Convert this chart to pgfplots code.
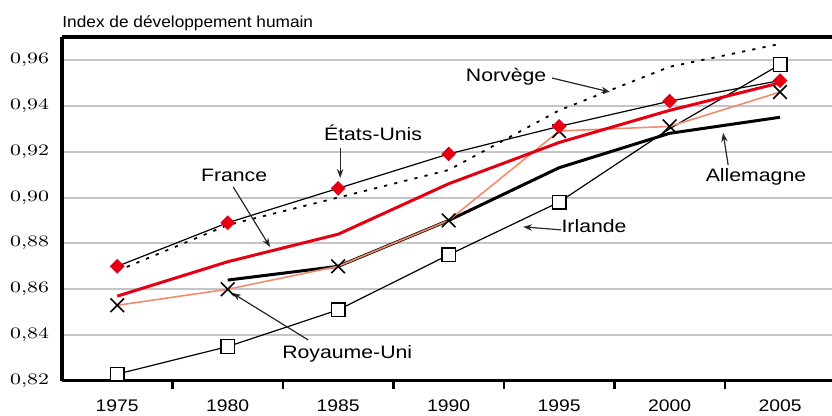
\documentclass[border=0pt]{standalone}
\usepackage{fontspec}
\usepackage{graphicx}
\setmainfont{Liberation Sans}
\newfontfamily\titlefont{Liberation Sans}[FakeStretch=1.08]
\newfontfamily\xtfont{Liberation Sans}[FakeStretch=1.15]
\newfontfamily\annfont{Liberation Sans}[FakeStretch=1.18]
\usepackage{pgfplots}
\pgfplotsset{compat=1.18}
\usetikzlibrary{arrows.meta}
\definecolor{idhred}{RGB}{228,0,18}
\definecolor{salmon}{RGB}{240,140,110}
\definecolor{gridgray}{RGB}{196,196,202}
\begin{document}
\begin{tikzpicture}[
    annot/.style={font=\fontsize{9}{10}\annfont, inner sep=0pt},
    arr/.style={-{Stealth[length=4.5pt,width=3.2pt]}, line width=0.6pt, black!85},
]
    \begin{axis}[
        name=ax, scale only axis, width=385pt, height=172pt,
        xmin=1972.5, xmax=2007.35, ymin=0.82, ymax=0.97,
        axis x line*=bottom, axis y line*=left,
        x axis line style={line width=1.5pt,-},
        y axis line style={line width=2pt,-},
        ytick={0.82,0.84,0.86,0.88,0.90,0.92,0.94,0.96},
        ymajorgrids, grid style={gridgray,line width=1pt},
        y tick style={draw=none},
        yticklabel={\scalebox{1.28}[1]{\pgfmathprintnumber[fixed,fixed zerofill,precision=2,use comma]{\tick}}},
        yticklabel style={font=\fontsize{7.6}{8}\selectfont, xshift=1pt},
        xtick={1977.5,1982.5,...,2002.5}, xticklabels={},
        tick align=outside, major tick length=4pt,
        x tick style={black,line width=1.2pt},
        extra x ticks={1975,1980,1985,1990,1995,2000,2005},
        extra x tick labels={1975,1980,1985,1990,1995,2000,2005},
        extra x tick style={major tick length=0pt},
        xticklabel style={font=\fontsize{8.4}{9}\xtfont, yshift=-6pt},
    ]
        % Allemagne
        \addplot[black, line width=1.5pt] coordinates {
            (1980,0.864) (1985,0.870) (1990,0.890) (1995,0.913) (2000,0.928) (2005,0.935)
        };
        % Irlande
        \addplot[black, line width=0.6pt, mark=square*, mark size=3.4pt,
            mark indices={1,2,3,4,5,7}, mark options={fill=white, line width=0.7pt}] coordinates {
            (1975,0.823) (1980,0.835) (1985,0.851) (1990,0.875) (1995,0.898) (2000,0.930) (2005,0.958)
        };
        % Royaume-Uni
        \addplot[salmon, line width=0.8pt, mark=x, mark size=4.8pt,
            mark options={draw=black, line width=0.8pt}] coordinates {
            (1975,0.853) (1980,0.860) (1985,0.870) (1990,0.890) (1995,0.929) (2000,0.931) (2005,0.946)
        };
        % France
        \addplot[idhred, line width=1.5pt] coordinates {
            (1975,0.857) (1980,0.872) (1985,0.884) (1990,0.906) (1995,0.924) (2000,0.938) (2005,0.950)
        };
        % Norvege
        \addplot[black, line width=0.9pt, dash pattern=on 1.6pt off 3.6pt] coordinates {
            (1975,0.868) (1980,0.888) (1985,0.900) (1990,0.912) (1995,0.938) (2000,0.957) (2005,0.967)
        };
        % Etats-Unis
        \addplot[black, line width=0.6pt, mark=square*, mark size=2.3pt,
            mark options={rotate=45, fill=idhred, draw=idhred}] coordinates {
            (1975,0.870) (1980,0.889) (1985,0.904) (1990,0.919) (1995,0.931) (2000,0.942) (2005,0.951)
        };

        \node[annot] at (axis cs:1992.6,0.9526) {Norvège};
        \draw[arr] (axis cs:1994.68,0.9521) -- (axis cs:1997.31,0.9460);
        \node[annot] at (axis cs:1986.58,0.9282) {États-Unis};
        \draw[arr] (axis cs:1985.09,0.9216) -- (axis cs:1985.09,0.9085);
        \node[annot] at (axis cs:1980.29,0.9098) {France};
        \draw[arr] (axis cs:1980.25,0.9046) -- (axis cs:1981.92,0.8784);
        \node[annot] at (axis cs:2003.91,0.9090) {Allemagne};
        \draw[arr] (axis cs:2002.65,0.9142) -- (axis cs:2002.42,0.9282);
        \node[annot] at (axis cs:1996.58,0.8876) {Irlande};
        \draw[arr] (axis cs:1995.09,0.8859) -- (axis cs:1993.37,0.8872);
        \node[annot] at (axis cs:1985.41,0.8318) {Royaume-Uni};
        \draw[arr] (axis cs:1983.64,0.8379) -- (axis cs:1980.20,0.8584);
    \end{axis}
    \draw[line width=2pt] (ax.north west) -- (ax.north east);
    \node[anchor=base west, font=\fontsize{8}{9}\titlefont, inner sep=0pt]
        at ([yshift=4.7pt]ax.north west) {Index de développement humain};
    \pgfresetboundingbox
    \path ([shift={(-31pt,-17.5pt)}]ax.south west) rectangle ([shift={(0pt,18.5pt)}]ax.north east);
\end{tikzpicture}
\end{document}
